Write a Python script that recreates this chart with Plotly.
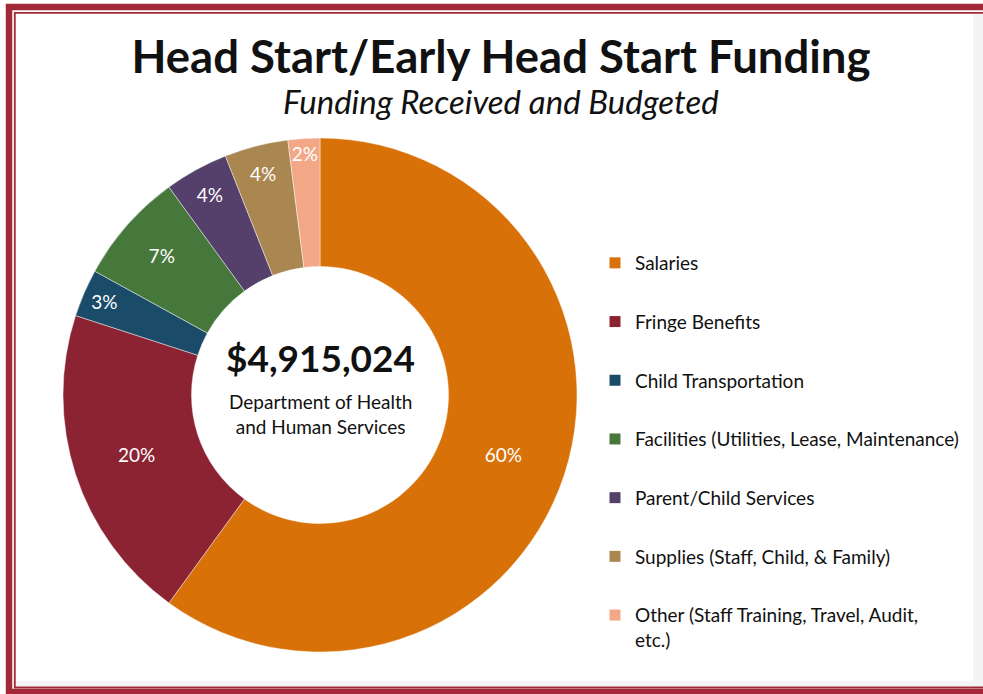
import plotly.graph_objects as go

categories = ["Salaries", "Fringe Benefits", "Child Transportation",
              "Facilities (Utilities, Lease, Maintenance)", "Parent/Child Services",
              "Supplies (Staff, Child, & Family)",
              "Other (Staff Training, Travel, Audit,<br>etc.)"]
shares = [60, 20, 3, 7, 4, 4, 2]
colors = ["#D87108", "#8B2332", "#1A4C69", "#46783C", "#54406A", "#AA8650", "#F2A887"]
total_label = "$4,915,024"
source_label = "Department of Health<br>and Human Services"

W, H = 983, 694
FONT = "Lato"
BORDER = "#A32939"


def px(x):
    return x / W


def py(y):
    return 1 - y / H


fig = go.Figure()

cx, cy, R = 320, 395, 257
fig.add_trace(go.Pie(
    labels=categories, values=shares, sort=False, direction="clockwise", rotation=0,
    hole=0.5,
    marker=dict(colors=colors, line=dict(color="rgba(255,255,255,0.55)", width=0.8)),
    textinfo="percent", texttemplate="%{percent:.0%}", textposition="inside",
    insidetextorientation="horizontal",
    insidetextfont=dict(family=FONT, size=19, color="white"),
    domain=dict(x=[px(cx - R), px(cx + R)], y=[py(cy + R), py(cy - R)]),
    showlegend=False, hoverinfo="label+percent",
))

# legend entries (one group each, to get the wide spacing of the reference)
for name, col in zip(categories, colors):
    fig.add_trace(go.Scatter(
        x=[None], y=[None], mode="markers", name=name, legendgroup=name,
        marker=dict(symbol="square", size=11, color=col), showlegend=True,
    ))

fig.update_xaxes(visible=False)
fig.update_yaxes(visible=False)

fig.add_annotation(text="<b>" + total_label + "</b>", x=px(cx), y=py(357), xref="paper", yref="paper",
                   showarrow=False, font=dict(family=FONT, size=37, color="#111111"),
                   xanchor="center", yanchor="middle")
fig.add_annotation(text=source_label, x=px(cx), y=py(414), xref="paper", yref="paper",
                   showarrow=False, font=dict(family=FONT, size=19, color="#111111"),
                   xanchor="center", yanchor="middle", align="center")

fig.add_annotation(text="<i>Funding Received and Budgeted</i>", x=px(501), y=py(101),
                   xref="paper", yref="paper", showarrow=False,
                   font=dict(family=FONT, size=33, color="#111111"),
                   xanchor="center", yanchor="middle")

# frame
shapes = [
    dict(type="rect", xref="paper", yref="paper", x0=px(973), x1=px(990), y0=py(688), y1=py(14),
         fillcolor="#F4F4F4", line=dict(width=0), layer="below"),
    dict(type="rect", xref="paper", yref="paper", x0=px(15), x1=px(990), y0=py(686), y1=py(681),
         fillcolor="#F4F4F4", line=dict(width=0), layer="below"),
    dict(type="rect", xref="paper", yref="paper", x0=px(9), x1=px(1000), y0=py(692), y1=py(7),
         line=dict(color=BORDER, width=6.5)),
    dict(type="rect", xref="paper", yref="paper", x0=px(14.8), x1=px(1000), y0=py(687.5), y1=py(12.8),
         line=dict(color=BORDER, width=1.8)),
]

fig.update_layout(
    width=W, height=H,
    margin=dict(l=0, r=0, t=0, b=0),
    paper_bgcolor="white", plot_bgcolor="white",
    title=dict(text="<b>Head Start/Early Head Start Funding</b>", x=px(501), xanchor="center",
               y=py(57), yanchor="middle", yref="container",
               font=dict(family=FONT, size=45.5, color="#111111")),
    legend=dict(x=px(595), xanchor="left", y=py(244), yanchor="top",
                font=dict(family=FONT, size=19, color="#111111"),
                tracegroupgap=31, valign="top", bgcolor="rgba(0,0,0,0)",
                itemclick=False, itemdoubleclick=False),
    uniformtext=dict(minsize=19, mode="show"),
    shapes=shapes,
)

fig.write_html("out.html", config={"displayModeBar": False},
               post_script="document.body.style.margin='0px';")
